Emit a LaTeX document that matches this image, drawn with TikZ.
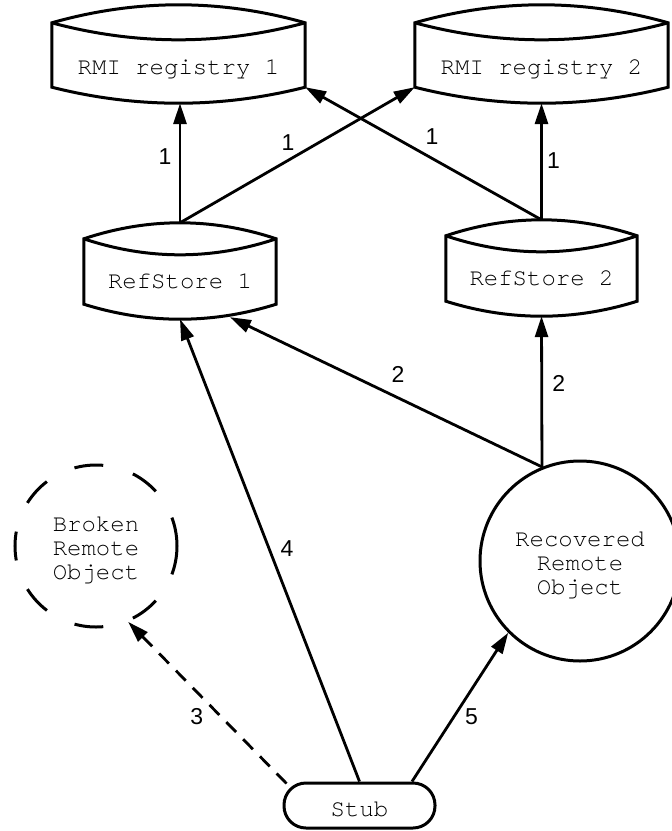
\documentclass[tikz,border=0pt]{standalone}
\usepackage{fontspec}
\usetikzlibrary{arrows.meta,calc}
\newfontfamily\monofont{TeX Gyre Cursor}
\newfontfamily\labelfont{Liberation Sans}

% Outline of a store node: bulging lid, lid rim, bulging base.
% #1 node name, #2 lid bulge, #3 rim depth, #4 base bulge
\newcommand\drumshape[4]{%
  \path ($(#1.north west)+(0,#2)$) coordinate (#1-tl)
        ($(#1.north east)+(0,#2)$) coordinate (#1-tr)
        ($(#1.south west)+(0,-#4)$) coordinate (#1-bl)
        ($(#1.south east)+(0,-#4)$) coordinate (#1-br);
  \draw[outline] (#1-tl)
      .. controls ($(#1-tl)!1/3!(#1-tr)+(0,-4/3*#2)$) and ($(#1-tl)!2/3!(#1-tr)+(0,-4/3*#2)$) .. (#1-tr)
      -- (#1-br)
      .. controls ($(#1-br)!1/3!(#1-bl)+(0,4/3*#4)$) and ($(#1-br)!2/3!(#1-bl)+(0,4/3*#4)$) .. (#1-bl)
      -- cycle;
  \draw[outline] (#1-tl)
      .. controls ($(#1-tl)!1/3!(#1-tr)+(0,4/3*#3)$) and ($(#1-tl)!2/3!(#1-tr)+(0,4/3*#3)$) .. (#1-tr);
}

\begin{document}
\begin{tikzpicture}[x=1pt,y=-1pt,
  outline/.style={line width=3pt},
  store/.style={inner sep=0pt, text depth=0pt,
    font=\monofont\fontsize{24}{24}\selectfont},
  obj/.style={circle, draw, line width=3pt, inner sep=0pt, align=center,
    font=\monofont\fontsize{24}{24}\selectfont},
  stubbox/.style={draw, line width=3pt, rounded corners=22pt, inner sep=0pt,
    text height=22pt, text depth=0pt,
    font=\monofont\fontsize{24}{24}\selectfont},
  conn/.style={line width=2.8pt, -{Triangle[length=21pt,width=13pt]}},
  lbl/.style={inner sep=0pt, font=\labelfont\fontsize{23}{23}\selectfont}]

\path[use as bounding box, fill=white] (0,0) rectangle (672,831);

% registries and reference stores
\node[store, minimum width=253pt, minimum height=98pt, text height=40pt] (r1) at (178.5,54) {RMI registry 1};
\node[store, minimum width=253pt, minimum height=98pt, text height=40pt] (r2) at (541.5,54) {RMI registry 2};
\node[store, minimum width=192pt, minimum height=96pt, text height=34pt] (rs1) at (180,271) {RefStore 1};
\node[store, minimum width=191pt, minimum height=96pt, text height=34pt] (rs2) at (541.5,268) {RefStore 2};
\drumshape{r1}{18}{17}{16}
\drumshape{r2}{18}{17}{16}
\drumshape{rs1}{16}{16}{15}
\drumshape{rs2}{16}{16}{15}

% remote objects and the stub
\node[obj, minimum size=162pt, dash pattern=on 29pt off 31pt] (br) at (96,546)
  {\rule{0pt}{24pt}Broken\\Remote\\Object};
\node[obj, minimum size=200pt] (rc) at (580,561)
  {\rule{0pt}{24pt}Recovered\\Remote\\Object};
\node[stubbox, minimum width=151pt, minimum height=45pt] (st) at (359.5,805.5) {Stub};

% step 1: stores register with both registries
\draw[conn] (rs1.north) -- (rs1.north |- r1.south)
  node[lbl, pos=0.55, xshift=-15pt] {1};
\draw[conn] (rs1.north) -- ([yshift=16pt]r2.south west)
  node[lbl, pos=0.46, yshift=18pt] {1};
\draw[conn] (rs2.north) -- ([yshift=16pt]r1.south east)
  node[lbl, pos=0.463, yshift=22pt] {1};
\draw[conn] (rs2.north) -- (r2.south)
  node[lbl, pos=0.51, xshift=12pt] {1};

% step 2: recovered object registers with both stores
\draw[conn] (rc.112.5) -- (rs2.south)
  node[lbl, pos=0.556, xshift=17pt] {2};
\draw[conn] (rc.112.5) -- ([xshift=50pt,yshift=2pt]rs1.south)
  node[lbl, pos=0.4615, yshift=23pt] {2};

% steps 3-5: the stub's calls
\draw[conn, dash pattern=on 14pt off 10pt] ([xshift=4pt,yshift=-2pt]st.north west) -- (br.293)
  node[lbl, pos=0.491, xshift=-12pt, yshift=-12pt] {3};
\draw[conn] (st.north) -- (rs1.south)
  node[lbl, pos=0.504, xshift=18pt] {4};
\draw[conn] ([xshift=52.5pt]st.north) -- (rc.225)
  node[lbl, pos=0.488, xshift=12.6pt, yshift=-8.2pt] {5};

\end{tikzpicture}
\end{document}
